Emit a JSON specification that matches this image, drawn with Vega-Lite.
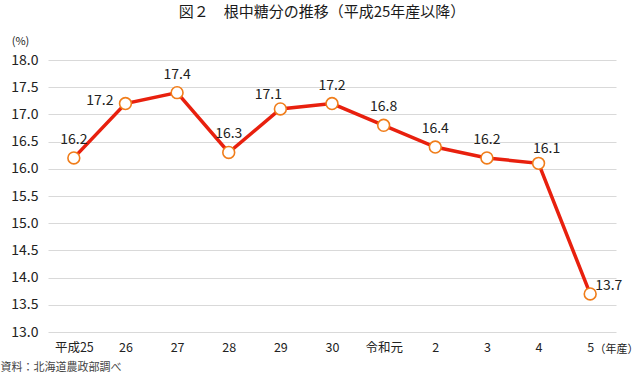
{
  "$schema": "https://vega.github.io/schema/vega-lite/v6.json",
  "width": 568,
  "height": 272,
  "autosize": {"type": "none"},
  "padding": {"left": 48, "top": 60, "right": 24, "bottom": 47},
  "background": "white",
  "config": {
    "font": "Noto Sans CJK JP",
    "view": {"stroke": null}
  },
  "title": {
    "text": "図２　根中糖分の推移（平成25年産以降）",
    "fontSize": 15,
    "fontWeight": "normal",
    "font": "Noto Sans CJK JP",
    "color": "#1a1a1a",
    "anchor": "middle",
    "frame": "group",
    "offset": 15,
    "dx": -10
  },
  "data": {
    "values": [
      {"year": "平成25", "value": 16.2},
      {"year": "26", "value": 17.2},
      {"year": "27", "value": 17.4},
      {"year": "28", "value": 16.3},
      {"year": "29", "value": 17.1},
      {"year": "30", "value": 17.2},
      {"year": "令和元", "value": 16.8},
      {"year": "2", "value": 16.4},
      {"year": "3", "value": 16.2},
      {"year": "4", "value": 16.1},
      {"year": "5", "value": 13.7}
    ]
  },
  "encoding": {
    "x": {
      "field": "year",
      "type": "nominal",
      "sort": null,
      "scale": {"paddingInner": 0, "paddingOuter": 0},
      "axis": {
        "labelAngle": 0,
        "labelFontSize": 12.5,
        "labelColor": "#222222",
        "labelPadding": 9,
        "ticks": false,
        "domain": false,
        "grid": false,
        "title": "（年産）",
        "titleFontSize": 11,
        "titleFontWeight": "normal",
        "titleColor": "#222222",
        "titleAlign": "left",
        "titleBaseline": "middle",
        "titleX": 546,
        "titleY": 17
      }
    }
  },
  "layer": [
    {
      "mark": {"type": "line", "color": "#E8200E", "strokeWidth": 3.5},
      "encoding": {
        "y": {
          "field": "value",
          "type": "quantitative",
          "scale": {"domain": [13, 18], "nice": false, "zero": false},
          "axis": {
            "values": [13, 13.5, 14, 14.5, 15, 15.5, 16, 16.5, 17, 17.5, 18],
            "format": ".1f",
            "labelFontSize": 14,
            "labelColor": "#222222",
            "labelPadding": 10,
            "ticks": false,
            "domain": false,
            "grid": true,
            "gridColor": "#d9d9d9",
            "gridWidth": 1,
            "title": "(%)",
            "titleAngle": 0,
            "titleFontSize": 11,
            "titleFontWeight": "normal",
            "titleColor": "#222222",
            "titleAlign": "center",
            "titleBaseline": "middle",
            "titleX": -28,
            "titleY": -19
          }
        }
      }
    },
    {
      "mark": {"type": "point", "shape": "circle", "filled": true, "fill": "white", "stroke": "#F07D1A", "strokeWidth": 1.6, "size": 140, "opacity": 1},
      "encoding": {
        "y": {
          "field": "value",
          "type": "quantitative",
          "axis": {
            "orient": "right",
            "labels": false,
            "ticks": false,
            "domain": false,
            "grid": false,
            "title": "資料：北海道農政部調べ",
            "titleAngle": 0,
            "titleFontSize": 11,
            "titleFontWeight": "normal",
            "titleColor": "#444444",
            "titleAlign": "left",
            "titleBaseline": "middle",
            "titleX": -616,
            "titleY": 307
          }
        }
      }
    },
    {
      "transform": [{"filter": "indexof(['平成25','27','28','30','令和元','2','3'], datum.year) >= 0"}],
      "mark": {"type": "text", "fontSize": 14, "color": "#222222", "baseline": "middle", "align": "center", "dy": -18},
      "encoding": {
        "y": {"field": "value", "type": "quantitative", "axis": null},
        "text": {"field": "value", "type": "quantitative", "format": ".1f"}
      }
    },
    {
      "transform": [{"filter": "datum.year == '29'"}],
      "mark": {"type": "text", "fontSize": 14, "color": "#222222", "baseline": "middle", "align": "center", "dx": -12, "dy": -14},
      "encoding": {
        "y": {"field": "value", "type": "quantitative", "axis": null},
        "text": {"field": "value", "type": "quantitative", "format": ".1f"}
      }
    },
    {
      "transform": [{"filter": "datum.year == '4'"}],
      "mark": {"type": "text", "fontSize": 14, "color": "#222222", "baseline": "middle", "align": "center", "dx": 8, "dy": -14},
      "encoding": {
        "y": {"field": "value", "type": "quantitative", "axis": null},
        "text": {"field": "value", "type": "quantitative", "format": ".1f"}
      }
    },
    {
      "transform": [{"filter": "datum.year == '26'"}],
      "mark": {"type": "text", "fontSize": 14, "color": "#222222", "baseline": "middle", "align": "right", "dx": -12, "dy": -3},
      "encoding": {
        "y": {"field": "value", "type": "quantitative", "axis": null},
        "text": {"field": "value", "type": "quantitative", "format": ".1f"}
      }
    },
    {
      "transform": [{"filter": "datum.year == '5'"}],
      "mark": {"type": "text", "fontSize": 14, "color": "#222222", "baseline": "middle", "align": "left", "dx": 5, "dy": -8},
      "encoding": {
        "y": {"field": "value", "type": "quantitative", "axis": null},
        "text": {"field": "value", "type": "quantitative", "format": ".1f"}
      }
    }
  ],
  "resolve": {"axis": {"y": "independent"}}
}
